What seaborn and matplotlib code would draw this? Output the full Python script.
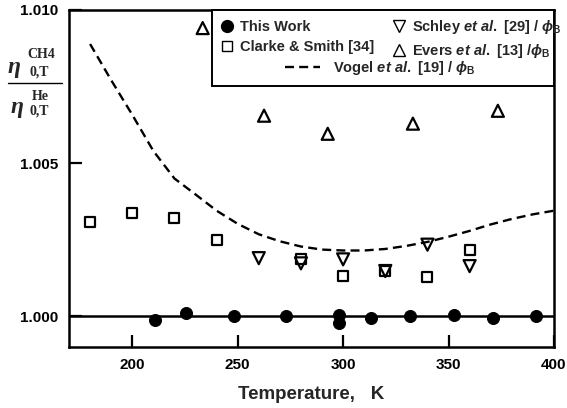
import matplotlib
matplotlib.use("Agg")
import matplotlib.pyplot as plt
import seaborn as sns
import pandas as pd
from matplotlib.lines import Line2D
from matplotlib.patches import Rectangle

# ---- data ----
this_work_T = [210.7, 225.7, 248.1, 273.1, 298.1, 298.1, 313.1, 331.6, 352.7, 371.2, 391.7]
this_work_r = [0.99988, 1.00010, 1.00000, 1.00000, 1.00003, 0.99977, 0.99996, 1.00000, 1.00003, 0.99994, 1.00000]

clarke_T = [180, 200, 220, 240, 280, 300, 320, 340, 360]
clarke_r = [1.00309, 1.00336, 1.00322, 1.00249, 1.00188, 1.00131, 1.00148, 1.00128, 1.00218]

schley_T = [260, 280, 300, 320, 340, 360]
schley_r = [1.00190, 1.00173, 1.00186, 1.00148, 1.00234, 1.00164]

evers_T = [233.4, 262.5, 292.7, 333.1, 373.4]
evers_r = [1.00941, 1.00655, 1.00596, 1.00629, 1.00671]

vogel_T = [180, 190, 200, 210, 220, 230, 240, 250, 260, 270, 280, 290, 300,
           310, 320, 330, 340, 350, 360, 370, 380, 390, 400]
vogel_r = [1.00889, 1.00771, 1.00658, 1.00540, 1.00450, 1.00398, 1.00345, 1.00302,
           1.00268, 1.00245, 1.00228, 1.00218, 1.00215, 1.00215, 1.00220, 1.00230,
           1.00243, 1.00260, 1.00279, 1.00300, 1.00318, 1.00333, 1.00345]

x_ticks = [200, 250, 300, 350, 400]
y_ticks = [1.000, 1.005, 1.010]
y_tick_labels = ["1.000", "1.005", "1.010"]

sns.set_style("ticks")
plt.rcParams['font.family'] = ['Liberation Sans', 'DejaVu Sans']
plt.rcParams['font.weight'] = 'bold'
plt.rcParams['mathtext.fontset'] = 'custom'
plt.rcParams['mathtext.rm'] = 'Liberation Sans:bold'
plt.rcParams['mathtext.it'] = 'Liberation Sans:bold:italic'
plt.rcParams['mathtext.bf'] = 'Liberation Sans:bold'

fig = plt.figure(figsize=(5.67, 4.08), dpi=100)
ax = fig.add_axes([0.1217, 0.1495, 0.9770 - 0.1217, 0.9755 - 0.1495])

ax.axhline(1.0, color='black', lw=1.8, zorder=1)

sns.lineplot(x=vogel_T, y=vogel_r, ax=ax, color='black', lw=1.7,
             dashes=False, linestyle=(0, (3.8, 2.2)), zorder=2)
sns.scatterplot(x=this_work_T, y=this_work_r, ax=ax, marker='o', s=75,
                color='black', edgecolor='black', zorder=3)
sns.scatterplot(x=clarke_T, y=clarke_r, ax=ax, marker='s', s=60,
                facecolor='white', edgecolor='black', linewidth=1.6, zorder=3)
sns.scatterplot(x=schley_T, y=schley_r, ax=ax, marker='v', s=75,
                facecolor='none', edgecolor='black', linewidth=1.6, zorder=4)
sns.scatterplot(x=evers_T, y=evers_r, ax=ax, marker='^', s=75,
                facecolor='none', edgecolor='black', linewidth=1.6, zorder=4)

ax.set_xlim(170, 400)
ax.set_ylim(0.999, 1.010)
ax.set_xticks(x_ticks)
ax.set_xticklabels([str(t) for t in x_ticks])
ax.set_yticks(y_ticks)
ax.set_yticklabels(y_tick_labels)
ax.tick_params(direction='in', length=9, width=1.6, labelsize=11, pad=8,
               colors='black')
for lab in ax.get_xticklabels() + ax.get_yticklabels():
    lab.set_fontweight('bold')
for sp in ax.spines.values():
    sp.set_visible(True)
    sp.set_linewidth(1.8)
    sp.set_color('black')
ax.set_xlabel("Temperature,   K", fontsize=13.5, fontweight='bold', labelpad=10)
ax.set_ylabel("")

# legend box
ax.add_patch(Rectangle((0.295, 0.7745), 0.705, 0.2255, transform=ax.transAxes,
                       facecolor='white', edgecolor='black', lw=1.4, zorder=5,
                       clip_on=False))

h1 = Line2D([], [], marker='o', color='black', ls='none', markersize=8.5)
h2 = Line2D([], [], marker='s', mfc='white', mec='black', ls='none', markersize=7.5, mew=1.0)
h3 = Line2D([], [], marker='v', mfc='none', mec='black', ls='none', markersize=9, mew=1.0)
h4 = Line2D([], [], marker='^', mfc='none', mec='black', ls='none', markersize=9, mew=1.0)
h5 = Line2D([], [], color='black', lw=1.7, ls=(0, (3.8, 2.2)))

leg1 = ax.legend([h1, h2, h3, h4],
                 ["This Work", "Clarke & Smith [34]",
                  r"Schley $et\ al.$ [29] / $\phi_{\mathrm{B}}$",
                  r"Evers $et\ al.$ [13] /$\phi_{\mathrm{B}}$"],
                 ncol=2, frameon=False, loc='upper left',
                 bbox_to_anchor=(0.289, 1.006),
                 handlelength=1.0, handletextpad=0.4, columnspacing=1.2,
                 labelspacing=0.4, borderpad=0.2,
                 prop={'weight': 'bold', 'size': 10.5})
leg1.set_zorder(6)
ax.add_artist(leg1)
leg2 = ax.legend([h5], [r"Vogel $et\ al.$ [19] / $\phi_{\mathrm{B}}$"],
                 frameon=False, loc='upper left', bbox_to_anchor=(0.428, 0.880),
                 handlelength=2.4, handletextpad=0.9, borderpad=0.1,
                 prop={'weight': 'bold', 'size': 10.5})
leg2.set_zorder(6)

# y-axis label as a fraction
W, H = 567.0, 408.0
def ft(x, y, s, **kw):
    fig.text(x / W, 1 - y / H, s, **kw)

serif = ['Liberation Serif', 'DejaVu Serif']
ft(8, 68, "η", fontsize=17, family=serif, style='italic', weight='bold',
   va='center', ha='left')
ft(27, 54, "CH4", fontsize=10, family=serif, weight='bold', va='center', ha='left')
ft(29, 72, "0,T", fontsize=10, family=serif, weight='bold', va='center', ha='left')
fig.add_artist(Line2D([8 / W, 62 / W], [1 - 83 / H, 1 - 83 / H], color='black', lw=1.0))
ft(11, 108, "η", fontsize=17, family=serif, style='italic', weight='bold',
   va='center', ha='left')
ft(32, 97, "He", fontsize=10, family=serif, weight='bold', va='center', ha='left')
ft(29, 111, "0,T", fontsize=10, family=serif, weight='bold', va='center', ha='left')

fig.savefig("out.png", dpi=100)
